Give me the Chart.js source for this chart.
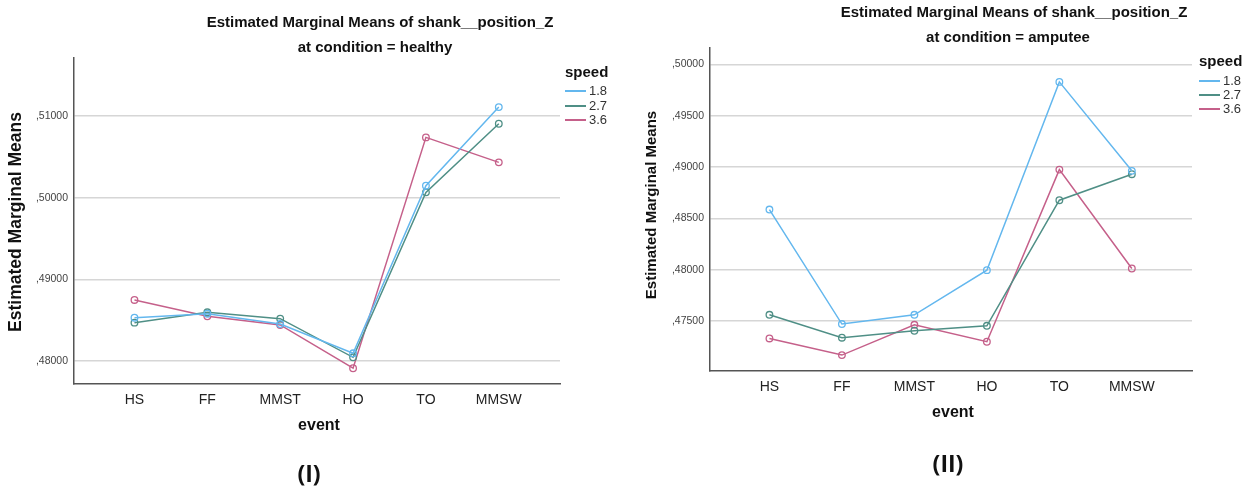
<!DOCTYPE html>
<html>
<head>
<meta charset="utf-8">
<script src="https://cdn.jsdelivr.net/npm/chart.js@4/dist/chart.umd.min.js"></script>
<style>
  html, body { margin: 0; padding: 0; background: #fff; }
  #wrap { position: relative; width: 1247px; height: 486px; background: #fff; overflow: hidden; }
  canvas { position: absolute; top: 0; }
  .tag { position: absolute; font: 700 23px "Open Sans", "Liberation Sans", Arial, sans-serif; color: #111; transform: translate(-50%, -50%); }
</style>
</head>
<body>
<div id="wrap">
  <canvas id="healthy" width="620" height="486" style="left:0"></canvas>
  <canvas id="amputee" width="627" height="486" style="left:620px"></canvas>
  <div class="tag" style="left:309px; top:473px">(I)</div>
  <div class="tag" style="left:948px; top:463px">(II)</div>
</div>
<script>
// Event categories along the x axis and the speed groups
const events = ['HS', 'FF', 'MMST', 'HO', 'TO', 'MMSW'];
const speeds = ['1.8', '2.7', '3.6'];

// Estimated marginal means, condition = healthy
const healthy18 = [0.48530, 0.48579, 0.48453, 0.48094, 0.50146, 0.51109];
const healthy27 = [0.48469, 0.48596, 0.48518, 0.48045, 0.50065, 0.50905];
const healthy36 = [0.48747, 0.48547, 0.48441, 0.47911, 0.50738, 0.50432];

// Estimated marginal means, condition = amputee
const amputee18 = [0.48586, 0.47471, 0.47561, 0.47996, 0.49829, 0.48963];
const amputee27 = [0.47561, 0.47338, 0.47406, 0.47454, 0.48677, 0.48930];
const amputee36 = [0.47331, 0.47169, 0.47464, 0.47299, 0.48975, 0.48012];

// Value-axis tick marks
const healthyTicks = [0.48, 0.49, 0.50, 0.51];
const amputeeTicks = [0.475, 0.480, 0.485, 0.490, 0.495, 0.500];

const speedColors = ['#63b7ee', '#4f8f86', '#c5608a'];
const FONT = '"Liberation Sans", Arial, sans-serif';

function fmtTick(v) {
  return ',' + v.toFixed(5).split('.')[1];
}

function series(values) {
  return values.map((v, i) => ({ x: i, y: v }));
}

// Titles, axis titles and the speed legend are painted on top of the chart
const textLayer = {
  id: 'textLayer',
  afterDraw(chart) {
    const o = chart.options.plugins.textLayer;
    const ctx = chart.ctx;
    ctx.save();
    ctx.fillStyle = '#111';
    ctx.textAlign = 'center';
    ctx.textBaseline = 'middle';
    ctx.font = 'bold 15px ' + FONT;
    o.titles.forEach(t => ctx.fillText(t.text, t.x, t.y));

    ctx.font = 'bold 16px ' + FONT;
    ctx.fillText('event', o.xTitle.x, o.xTitle.y);

    ctx.save();
    ctx.translate(o.yTitle.x, o.yTitle.y);
    ctx.rotate(-Math.PI / 2);
    ctx.font = 'bold ' + o.yTitle.size + 'px ' + FONT;
    ctx.fillText('Estimated Marginal Means', 0, 0);
    ctx.restore();

    // legend
    ctx.textAlign = 'left';
    ctx.font = 'bold 15px ' + FONT;
    ctx.fillStyle = '#111';
    ctx.fillText('speed', o.legend.x, o.legend.y0);
    ctx.font = '13px ' + FONT;
    chart.data.datasets.forEach((ds, i) => {
      const y = o.legend.rows[i];
      ctx.strokeStyle = ds.borderColor;
      ctx.lineWidth = 2;
      ctx.beginPath();
      ctx.moveTo(o.legend.x, y);
      ctx.lineTo(o.legend.x + 21, y);
      ctx.stroke();
      ctx.fillStyle = '#333';
      ctx.fillText(ds.label, o.legend.x + 24, y + 0.5);
    });
    ctx.restore();
  }
};

function buildChart(id, data, ticks, yMin, yMax, xMin, xMax, pad, text) {
  const datasets = data.map((vals, i) => ({
    label: speeds[i],
    data: series(vals),
    borderColor: speedColors[i],
    backgroundColor: 'rgba(255,255,255,0)',
    borderWidth: 1.5,
    pointRadius: 3.3,
    pointBorderWidth: 1.3,
    pointBackgroundColor: 'rgba(255,255,255,0)',
    pointBorderColor: speedColors[i],
    tension: 0
  }));
  return new Chart(document.getElementById(id), {
    type: 'line',
    data: { datasets },
    plugins: [textLayer],
    options: {
      responsive: false,
      animation: false,
      devicePixelRatio: 1,
      layout: { padding: pad },
      plugins: {
        legend: { display: false },
        tooltip: { enabled: false },
        textLayer: text
      },
      scales: {
        x: {
          type: 'linear',
          min: xMin,
          max: xMax,
          afterBuildTicks: s => { s.ticks = events.map((_, i) => ({ value: i })); },
          afterFit: s => { s.height = 30; },
          grid: { display: false, drawTicks: false },
          border: { display: true, color: '#555', width: 1.5 },
          ticks: {
            padding: 8,
            color: '#222',
            font: { family: FONT, size: 14 },
            maxRotation: 0,
            autoSkip: false,
            callback: v => events[v]
          }
        },
        y: {
          type: 'linear',
          min: yMin,
          max: yMax,
          afterBuildTicks: s => { s.ticks = ticks.map(v => ({ value: v })); },
          afterFit: s => { s.width = 40; },
          grid: { color: '#d6d6d6', lineWidth: 1.5, drawTicks: false },
          border: { display: true, color: '#555', width: 1.5 },
          ticks: {
            padding: 6,
            color: '#444',
            font: { family: FONT, size: 10.5 },
            callback: v => fmtTick(v)
          }
        }
      }
    }
  });
}

buildChart('healthy', [healthy18, healthy27, healthy36], healthyTicks,
  0.47718, 0.5171, -0.83, 5.84,
  { left: 34, right: 60, top: 58, bottom: 72 },
  {
    titles: [
      { text: 'Estimated Marginal Means of shank__position_Z', x: 380, y: 23 },
      { text: 'at condition = healthy', x: 375, y: 48 }
    ],
    xTitle: { x: 319, y: 426 },
    yTitle: { x: 16, y: 222, size: 17.5 },
    legend: { x: 565, y0: 73, rows: [91, 106, 120] }
  });

buildChart('amputee', [amputee18, amputee27, amputee36], amputeeTicks,
  0.47014, 0.50159, -0.82, 5.83,
  { left: 50, right: 55, top: 48, bottom: 85 },
  {
    titles: [
      { text: 'Estimated Marginal Means of shank__position_Z', x: 394, y: 13 },
      { text: 'at condition = amputee', x: 388, y: 38 }
    ],
    xTitle: { x: 333, y: 413 },
    yTitle: { x: 32, y: 205, size: 15 },
    legend: { x: 579, y0: 62, rows: [81, 95, 109] }
  });
</script>
</body>
</html>
